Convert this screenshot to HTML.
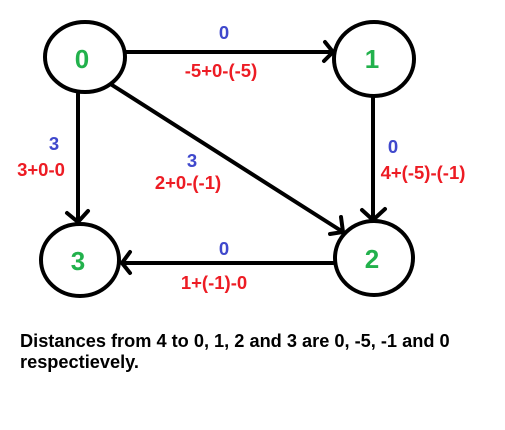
<!DOCTYPE html>
<html><head><meta charset="utf-8"><style>
html,body{margin:0;padding:0;background:#fff;width:505px;height:430px;overflow:hidden}
svg{display:block}
text{font-family:"Liberation Sans",Arial,sans-serif;font-weight:bold}
</style></head><body>
<svg width="505" height="430" viewBox="0 0 505 430">
<g stroke="#000" stroke-width="4" fill="none" stroke-linecap="round">
  <g><line x1="125" y1="52" x2="333" y2="52"/><polyline points="325,42 333,52 324,61"/></g>
  <g><line x1="78" y1="94" x2="78" y2="222"/><polyline points="67,213 78,222 88,211"/></g>
  <g><line x1="373" y1="97" x2="373" y2="220"/><polyline points="362,210 373,220 385,209"/></g>
  <g><line x1="112" y1="85" x2="343" y2="232"/><polyline points="330,234 343,232 341,217"/></g>
  <g><line x1="333" y1="263" x2="122" y2="263"/><polyline points="130,252 122,263 130,273"/></g>
  <ellipse cx="85" cy="57" rx="40" ry="35"/>
  <ellipse cx="374" cy="59" rx="40" ry="37"/>
  <ellipse cx="374" cy="258" rx="39" ry="37"/>
  <ellipse cx="80" cy="260" rx="39" ry="36"/>
</g>
<g fill="#22b14c" font-size="26" text-anchor="middle">
  <text x="82" y="68">0</text>
  <text x="372" y="68">1</text>
  <text x="372" y="268">2</text>
  <text x="78" y="270">3</text>
</g>
<g fill="#3f48cc" font-size="18.5" text-anchor="middle">
  <text x="224" y="39">0</text>
  <text x="54" y="150">3</text>
  <text x="192" y="167">3</text>
  <text x="393" y="153">0</text>
  <text x="224" y="255">0</text>
</g>
<g fill="#ed1c24" font-size="18.5" text-anchor="middle">
  <text x="221" y="77">-5+0-(-5)</text>
  <text x="41" y="176">3+0-0</text>
  <text x="188" y="189">2+0-(-1)</text>
  <text x="423" y="179">4+(-5)-(-1)</text>
  <text x="214" y="289">1+(-1)-0</text>
</g>
<g fill="#000" font-size="18.2">
  <text x="20" y="347">Distances from 4 to 0, 1, 2 and 3 are 0, -5, -1 and 0</text>
  <text x="20" y="368">respectievely.</text>
</g>
</svg>
</body></html>
